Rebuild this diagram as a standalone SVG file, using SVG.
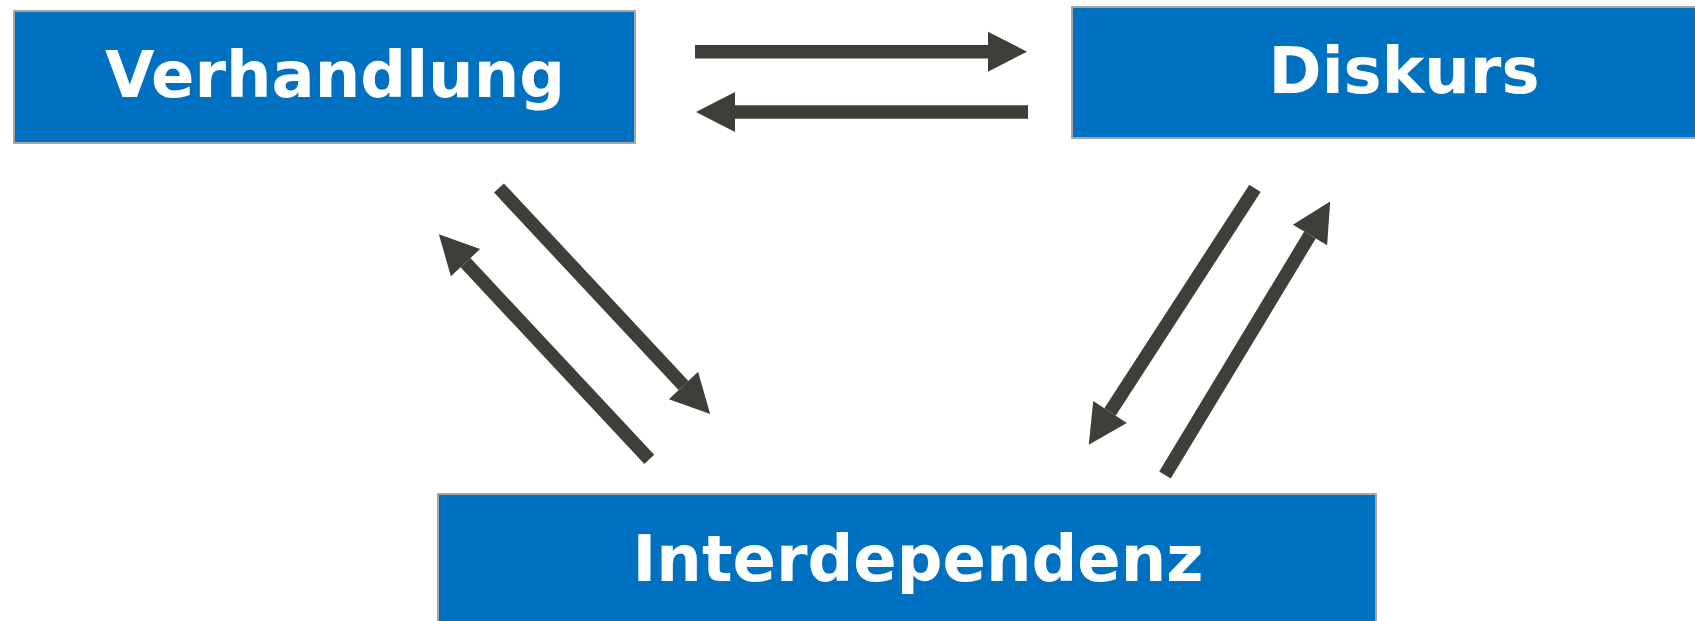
<svg xmlns="http://www.w3.org/2000/svg" width="1695" height="621" viewBox="0 0 1695 621">
  <style>
    .box { fill: #0070c0; stroke: #a6a6a6; stroke-width: 2; }
    .label { fill: #ffffff; font-family: "DejaVu Sans", Verdana, sans-serif; font-weight: bold; font-size: 64px; text-anchor: middle; }
    .conn { stroke: #3f3e39; stroke-width: 13.5; fill: none; stroke-linecap: butt; marker-end: url(#head); }
  </style>
  <defs>
    <marker id="head" markerUnits="userSpaceOnUse" viewBox="0 -20 39 40" refX="0" refY="0" markerWidth="39" markerHeight="40" orient="auto" overflow="visible">
      <path d="M0,-20 L39,0 L0,20 Z" fill="#3f3e39"/>
    </marker>
  </defs>
  <rect width="1695" height="621" fill="#ffffff"/>
  <g id="node-verhandlung">
    <rect class="box" x="14" y="11" width="621" height="132"/>
    <text class="label" x="335" y="97">Verhandlung</text>
  </g>
  <g id="node-diskurs">
    <rect class="box" x="1072" y="7" width="640" height="131"/>
    <text class="label" x="1404" y="93">Diskurs</text>
  </g>
  <g id="node-interdependenz">
    <rect class="box" x="438" y="494" width="938" height="140"/>
    <text class="label" x="918" y="581">Interdependenz</text>
  </g>
  <g id="connectors">
    <line class="conn" x1="695" y1="51.7" x2="988" y2="51.7"/>
    <line class="conn" x1="1028" y1="112" x2="735" y2="112"/>
    <line class="conn" x1="499" y1="188" x2="683.5" y2="385.5"/>
    <line class="conn" x1="649.3" y1="459.3" x2="465.5" y2="262.7"/>
    <line class="conn" x1="1255" y1="188.3" x2="1110" y2="412"/>
    <line class="conn" x1="1165" y1="475" x2="1310" y2="235"/>
  </g>
</svg>
